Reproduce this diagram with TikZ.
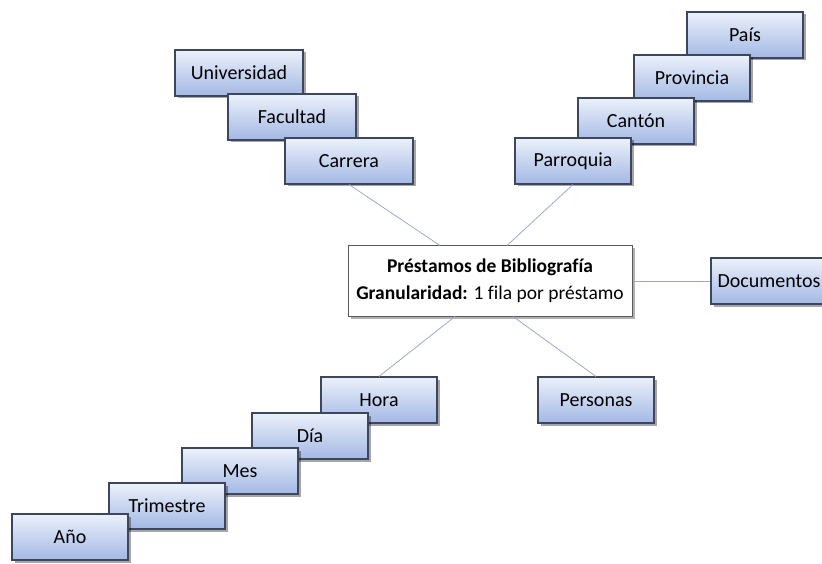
\documentclass[tikz,border=0pt]{standalone}
\usepackage{fontspec}
\setmainfont{Carlito}[Ligatures=NoCommon]
\usetikzlibrary{shadows}
\definecolor{boxtop}{RGB}{236,241,251}
\definecolor{boxbottom}{RGB}{163,184,228}
\definecolor{boxline}{RGB}{62,70,94}
\definecolor{linkline}{RGB}{158,168,204}
\begin{document}
\begin{tikzpicture}[x=1pt, y=-1pt,
    dimbox/.style={rectangle, draw=boxline, line width=1.1pt, top color=boxtop, bottom color=boxbottom,
        minimum width=116pt, minimum height=46pt, inner sep=0pt,
        drop shadow={shadow xshift=2.5pt, shadow yshift=-2.5pt, fill=black, opacity=0.35},
        font=\fontsize{20}{24}\selectfont},
    widedim/.style={dimbox, minimum width=128pt},
    factbox/.style={rectangle, draw=black!65, line width=1pt, fill=white, align=center,
        minimum width=284pt, minimum height=70pt, inner sep=0pt,
        drop shadow={shadow xshift=2.5pt, shadow yshift=-2.5pt, fill=black, opacity=0.3},
        font=\fontsize{19.5}{27}\selectfont},
    link/.style={draw=linkline, line width=0.8pt}]
        \useasboundingbox (0, 0) rectangle (822, 564);

        % Nodes
        \node (universidad) [widedim] at (239, 73) {Universidad};
        \node (facultad) [widedim] at (292, 117) {Facultad};
        \node (carrera) [widedim] at (349, 161) {Carrera};
        \node (pais) [dimbox] at (745, 35) {País};
        \node (provincia) [dimbox] at (692, 78) {Provincia};
        \node (canton) [dimbox] at (636, 121) {Cantón};
        \node (parroquia) [dimbox] at (573, 161) {Parroquia};
        \node (prestamos) [factbox] at (490, 281) {\textbf{Préstamos de Bibliografía}\\\textbf{Granularidad:} 1 fila por préstamo};
        \node (documentos) [dimbox] at (769, 281) {Documentos};
        \node (personas) [dimbox] at (596, 400) {Personas};
        \node (hora) [dimbox] at (379, 400) {Hora};
        \node (dia) [dimbox] at (310, 436) {Día};
        \node (mes) [dimbox] at (240, 471) {Mes};
        \node (trimestre) [dimbox] at (167, 506) {Trimestre};
        \node (anio) [dimbox] at (70, 537) {Año};

        % Edges
        \draw[link] (carrera.south) -- ([xshift=-50pt]prestamos.north);
        \draw[link] (parroquia.south) -- ([xshift=17pt]prestamos.north);
        \draw[link] (prestamos.east) -- (documentos.west);
        \draw[link] (hora.north) -- ([xshift=-35pt]prestamos.south);
        \draw[link] (personas.north) -- ([xshift=23pt]prestamos.south);
    \end{tikzpicture}
\end{document}
